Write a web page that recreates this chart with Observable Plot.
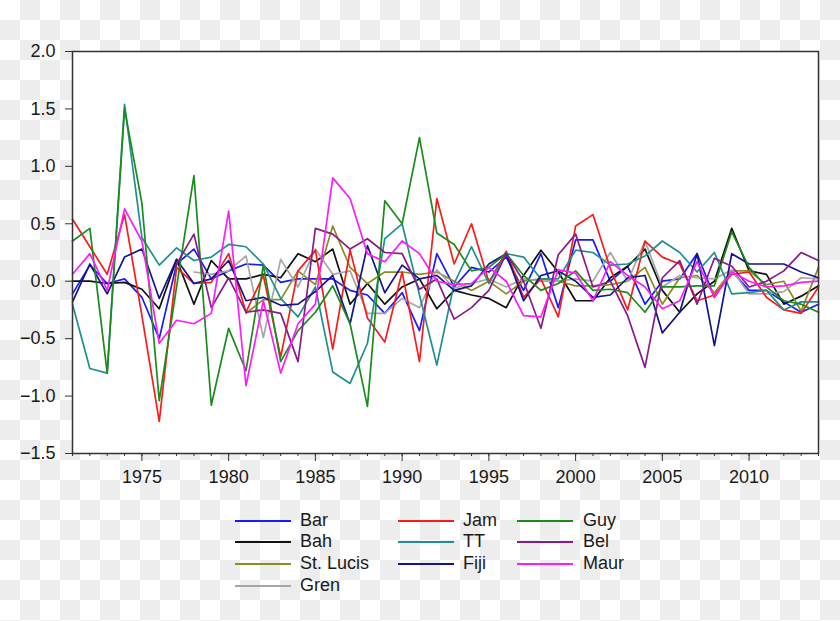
<!DOCTYPE html>
<html>
<head>
<meta charset="utf-8">
<script src="https://cdn.jsdelivr.net/npm/d3@7"></script>
<script src="https://cdn.jsdelivr.net/npm/@observablehq/plot@0.6"></script>
<style>
  html, body { margin: 0; padding: 0; }
  body {
    width: 840px; height: 621px; position: relative; overflow: hidden;
    background: repeating-conic-gradient(#ededed 0 25%, #ffffff 0 50%) 0 0 / 40px 40px;
    font-family: "Liberation Sans", Arial, Helvetica, sans-serif;
  }
  #chart { position: absolute; left: 0; top: 0; }
  .lg-line { position: absolute; height: 2px; }
  .lg-text { position: absolute; font-size: 18px; line-height: 22px; color: #1a1a1a; white-space: nowrap; }
</style>
</head>
<body>
<div id="chart"></div>
<div id="legend"></div>
<script>
const years = d3.range(1971, 2015);
const yTicks = [-1.5, -1.0, -0.5, 0.0, 0.5, 1.0, 1.5, 2.0];
const majorYears = [1975, 1980, 1985, 1990, 1995, 2000, 2005, 2010];

const seriesNames = ["Bar", "Bah", "St. Lucis", "Gren", "Jam", "TT", "Fiji", "Guy", "Bel", "Maur"];
const seriesColors = ["#1a1aff", "#111111", "#8c8c20", "#a6a6a6", "#ff1a1a", "#1f8f8f", "#14148c", "#1a8c1a", "#8a1a8a", "#ff1aff"];

// values 1971..2014 (null = no data)
const bar = [-0.11, 0.14, -0.02, 0.02, -0.14, -0.50, 0.15, 0.28, 0.02, 0.09, 0.15, 0.14, -0.01, 0.02, 0.02, 0.02, -0.08, -0.12, -0.28, -0.10, -0.43, 0.24, -0.05, 0.12, 0.08, 0.21, -0.08, 0.24, -0.23, 0.36, 0.36, 0.00, 0.13, -0.20, 0.00, 0.02, 0.24, -0.14, 0.09, -0.08, -0.08, -0.18, -0.27, -0.20];
const bah = [0.00, 0.00, -0.02, -0.01, -0.07, -0.24, 0.19, -0.20, 0.18, 0.02, 0.02, 0.06, 0.03, 0.24, 0.17, 0.28, -0.20, -0.02, -0.20, -0.05, 0.02, -0.24, -0.08, -0.12, -0.15, -0.23, 0.05, 0.27, 0.08, -0.17, -0.17, 0.03, 0.13, 0.28, -0.08, -0.27, -0.11, 0.00, 0.46, 0.09, 0.06, -0.20, -0.13, -0.04];
const stLucis = [null, null, null, null, null, null, null, null, null, null, -0.28, -0.16, -0.16, 0.09, -0.03, 0.48, 0.12, -0.02, 0.08, 0.08, 0.06, 0.08, 0.00, -0.08, 0.00, -0.11, 0.00, 0.02, 0.00, -0.04, -0.04, -0.03, 0.00, 0.12, -0.20, 0.03, 0.05, -0.10, 0.09, 0.09, -0.03, 0.00, -0.26, 0.12];
const gren = [null, null, null, null, null, null, null, 0.08, 0.06, 0.09, 0.22, -0.49, 0.19, -0.05, 0.28, 0.06, 0.09, -0.28, -0.28, -0.15, -0.23, 0.10, -0.06, -0.02, 0.02, -0.05, 0.02, 0.00, 0.00, 0.02, 0.00, 0.25, 0.00, 0.35, -0.05, 0.05, 0.03, 0.02, 0.10, -0.11, -0.11, -0.09, 0.03, 0.02];
const jam = [0.54, 0.30, 0.06, 0.58, -0.30, -1.22, 0.12, -0.02, -0.01, 0.24, -0.27, 0.05, -0.66, 0.09, 0.27, -0.59, 0.27, -0.32, -0.53, 0.08, -0.70, 0.72, 0.15, 0.50, -0.01, 0.26, -0.14, 0.02, -0.31, 0.48, 0.58, 0.11, -0.25, 0.35, 0.21, 0.15, -0.17, -0.12, 0.06, 0.08, -0.14, -0.25, -0.28, -0.05];
const tt = [-0.20, -0.76, -0.80, 1.54, 0.38, 0.14, 0.29, 0.18, 0.21, 0.32, 0.30, 0.15, -0.15, -0.31, -0.05, -0.79, -0.89, -0.54, 0.37, 0.50, -0.12, -0.73, -0.02, 0.30, -0.02, 0.24, 0.21, 0.02, 0.02, 0.27, 0.25, 0.14, 0.15, 0.22, 0.35, 0.25, 0.08, 0.25, -0.11, -0.10, -0.08, -0.25, -0.18, -0.18];
const fiji = [-0.18, 0.15, -0.11, 0.21, 0.28, -0.15, 0.19, -0.02, 0.02, 0.18, -0.17, -0.14, -0.21, -0.20, -0.09, 0.05, -0.37, 0.31, -0.10, 0.14, 0.02, 0.05, -0.08, -0.04, 0.15, 0.24, -0.17, 0.05, 0.09, 0.00, -0.14, -0.12, 0.03, 0.05, -0.45, -0.27, 0.24, -0.56, 0.24, 0.15, 0.15, 0.15, 0.08, 0.03];
const guy = [0.35, 0.46, -0.80, 1.50, 0.68, -1.04, -0.05, 0.92, -1.08, -0.41, -0.78, 0.14, -0.70, -0.43, -0.27, -0.04, -0.37, -1.09, 0.70, 0.50, 1.25, 0.42, 0.32, 0.09, 0.12, 0.24, 0.05, -0.08, -0.02, 0.09, -0.08, -0.07, -0.10, -0.27, -0.05, -0.05, -0.04, -0.04, 0.43, 0.12, -0.05, -0.17, -0.20, -0.27];
const bel = [null, null, null, null, null, null, 0.15, 0.41, -0.23, 0.03, -0.27, -0.25, -0.28, -0.70, 0.46, 0.41, 0.28, 0.37, 0.25, 0.24, -0.07, 0.02, -0.33, -0.23, -0.08, 0.24, 0.00, -0.41, 0.23, 0.41, -0.05, 0.00, -0.30, -0.75, 0.03, 0.18, -0.20, 0.20, 0.13, -0.05, 0.00, 0.09, 0.25, 0.18];
const maur = [0.06, 0.24, -0.08, 0.63, 0.35, -0.54, -0.34, -0.37, -0.28, 0.61, -0.91, -0.17, -0.80, -0.37, -0.20, 0.90, 0.72, 0.24, 0.17, 0.35, 0.24, 0.00, -0.03, -0.02, 0.12, 0.00, -0.30, -0.31, 0.10, 0.07, -0.17, 0.17, 0.05, -0.05, -0.24, -0.17, 0.17, -0.14, 0.08, 0.00, -0.05, -0.04, -0.01, 0.00];

const seriesValues = [bar, bah, stLucis, gren, jam, tt, fiji, guy, bel, maur];

const rows = [];
seriesNames.forEach((name, s) => {
  seriesValues[s].forEach((v, i) => {
    if (v !== null) rows.push({year: years[i], value: v, series: name});
  });
});

const chart = Plot.plot({
  width: 840,
  height: 490,
  marginLeft: 72,
  marginRight: 22,
  marginTop: 51,
  marginBottom: 37,
  style: {background: "transparent", fontFamily: "'Liberation Sans', Arial, sans-serif", fontSize: "18px", color: "#1a1a1a"},
  x: {domain: [1971, 2014]},
  y: {domain: [-1.5, 2.0]},
  color: {domain: seriesNames, range: seriesColors},
  marks: [
    Plot.frame({fill: "white", stroke: "none"}),
    Plot.lineY(rows, {x: "year", y: "value", z: "series", stroke: "series", strokeWidth: 1.7}),
    Plot.axisY({ticks: yTicks, tickFormat: d3.format(".1f"), tickSize: 7, tickPadding: 10, stroke: "#333", label: null}),
    Plot.axisX({ticks: years, tickSize: 3, tickFormat: () => "", stroke: "#333", label: null}),
    Plot.axisX({ticks: majorYears, tickSize: 8, tickPadding: 9, tickFormat: d => String(d), stroke: "#333", label: null}),
    Plot.frame({stroke: "#333", strokeWidth: 1.5})
  ]
});
document.getElementById("chart").appendChild(chart);

// legend
const legendCols = [
  {line: 235, text: 300, items: ["Bar", "Bah", "St. Lucis", "Gren"]},
  {line: 398, text: 463, items: ["Jam", "TT", "Fiji"]},
  {line: 517, text: 583, items: ["Guy", "Bel", "Maur"]}
];
const rowY = [520.7, 542.3, 564.3, 586];
const legend = document.getElementById("legend");
legendCols.forEach(col => {
  col.items.forEach((name, r) => {
    const color = seriesColors[seriesNames.indexOf(name)];
    const ln = document.createElement("div");
    ln.className = "lg-line";
    ln.style.left = col.line + "px";
    ln.style.width = "56px";
    ln.style.top = (rowY[r] - 1) + "px";
    ln.style.background = color;
    legend.appendChild(ln);
    const tx = document.createElement("div");
    tx.className = "lg-text";
    tx.style.left = col.text + "px";
    tx.style.top = (rowY[r] - 12) + "px";
    tx.textContent = name;
    legend.appendChild(tx);
  });
});
</script>
</body>
</html>
